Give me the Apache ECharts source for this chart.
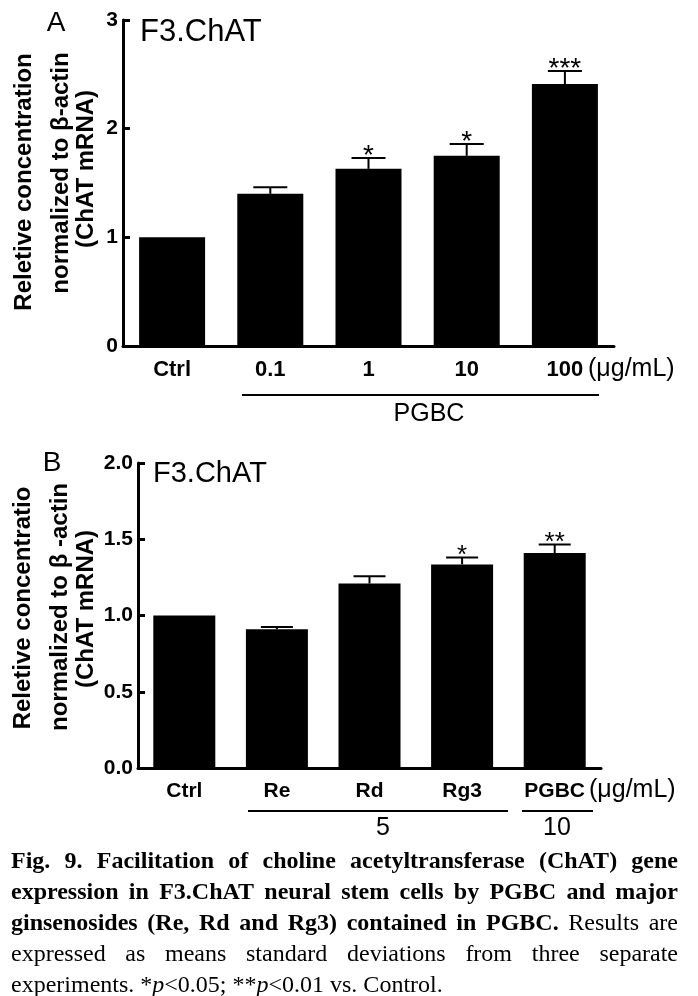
<!DOCTYPE html>
<html><head><meta charset="utf-8">
<script src="https://cdn.jsdelivr.net/npm/echarts@6/dist/echarts.min.js"></script>
<style>html,body{margin:0;padding:0;background:#fff}#c{width:698px;height:996px}</style>
</head><body><div id="c"></div>
<script>
// ---- Panel A data ----
const catsA = ['Ctrl', '0.1', '1', '10', '100'];
const meanA = [1.00, 1.40, 1.63, 1.75, 2.41];
const errA = [0, 0.06, 0.10, 0.11, 0.12];
const starsA = ['', '', '*', '*', '***'];
const yTicksA = { min: 0, max: 3, interval: 1 };

// ---- Panel B data ----
const catsB = ['Ctrl', 'Re', 'Rd', 'Rg3', 'PGBC'];
const meanB = [1.00, 0.91, 1.21, 1.335, 1.41];
const errB = [0, 0.015, 0.048, 0.046, 0.055];
const starsB = ['', '', '', '*', '**'];
const yTicksB = { min: 0, max: 2, interval: 0.5 };

const SANS = '"Liberation Sans", Arial, sans-serif';
const SERIF = '"Liberation Serif", "Times New Roman", serif';

const chart = echarts.init(document.getElementById('c'), null, { renderer: 'canvas' });

function errRender(stars, capHalf, starSize) {
  return function (params, api) {
    const i = api.value(0), m = api.value(1), e = api.value(2);
    const base = api.coord([i, m]);
    const top = api.coord([i, m + e]);
    const children = [];
    if (e > 0) {
      children.push({ type: 'line', shape: { x1: base[0], y1: base[1], x2: top[0], y2: top[1] }, style: { stroke: '#000', lineWidth: 2 } });
      children.push({ type: 'line', shape: { x1: top[0] - capHalf, y1: top[1], x2: top[0] + capHalf, y2: top[1] }, style: { stroke: '#000', lineWidth: 2 } });
    }
    const s = stars[i];
    if (s) {
      children.push({ type: 'text', x: top[0], y: top[1] - 2, style: { text: s, font: 'normal ' + starSize + 'px ' + SANS, fill: '#000', align: 'center', verticalAlign: 'middle' } });
    }
    return { type: 'group', children };
  };
}

function yAxisCfg(grid, t, decimals) {
  return {
    type: 'value', gridIndex: grid, min: t.min, max: t.max, interval: t.interval,
    axisLine: { show: true, lineStyle: { color: '#000', width: 3 } },
    axisTick: { show: true, inside: true, length: 7, lineStyle: { color: '#000', width: 3 } },
    splitLine: { show: false },
    axisLabel: { color: '#000', fontFamily: SANS, fontWeight: 'bold', fontSize: 21, margin: 5,
      formatter: v => v.toFixed(decimals) }
  };
}
function xAxisCfg(grid, cats, size) {
  return {
    type: 'category', gridIndex: grid, data: cats,
    axisLine: { show: true, lineStyle: { color: '#000', width: 3 } },
    axisTick: { show: false },
    axisLabel: { color: '#000', fontFamily: SANS, fontWeight: 'bold', fontSize: size, margin: 13 }
  };
}

// ---- caption (justified) ----
const captionLines = [
  [['Fig. 9. Facilitation of choline acetyltransferase (ChAT) gene', 'bold']],
  [['expression in F3.ChAT neural stem cells by PGBC and major', 'bold']],
  [['ginsenosides (Re, Rd and Rg3) contained in PGBC.', 'bold'], ['Results are', 'normal']],
  [['expressed as means standard deviations from three separate', 'normal']]
];
const captionLast = 'experiments. *{i|p}<0.05; **{i|p}<0.01 vs. Control.';
const CAP_SIZE = 24, CAP_X0 = 11, CAP_X1 = 678;
const capY = [862, 893, 924, 955, 986];

const mctx = document.createElement('canvas').getContext('2d');
function fontOf(w) { return w + ' ' + CAP_SIZE + 'px ' + SERIF; }
const graphics = [];
captionLines.forEach((segs, li) => {
  const words = [];
  segs.forEach(([txt, w]) => txt.split(' ').forEach(word => words.push([word, w])));
  let sum = 0;
  const widths = words.map(([word, w]) => { mctx.font = fontOf(w); const wd = mctx.measureText(word).width; sum += wd; return wd; });
  const gap = (CAP_X1 - CAP_X0 - sum) / (words.length - 1);
  let x = CAP_X0;
  words.forEach(([word, w], k) => {
    graphics.push({ type: 'text', x: x, y: capY[li], style: { text: word, font: fontOf(w), fill: '#000', align: 'left', verticalAlign: 'middle' } });
    x += widths[k] + gap;
  });
});
graphics.push({ type: 'text', x: CAP_X0, y: capY[4], style: {
  text: captionLast, font: fontOf('normal'), fill: '#000', align: 'left', verticalAlign: 'middle',
  rich: { i: { fontStyle: 'italic', fontFamily: SERIF, fontSize: CAP_SIZE } } } });

function txt(x, y, text, size, weight, align, rot) {
  return { type: 'text', x, y, rotation: rot || 0, style: { text, font: (weight || 'normal') + ' ' + size + 'px ' + SANS, fill: '#000', align: align || 'center', verticalAlign: 'middle' } };
}
function hline(x1, x2, y) {
  return { type: 'line', shape: { x1, y1: y, x2, y2: y }, style: { stroke: '#000', lineWidth: 2 } };
}
const R = Math.PI / 2;
graphics.push(
  // Panel A
  txt(56, 23, 'A', 28, 'normal'),
  txt(140, 32, 'F3.ChAT', 31, 'normal', 'left'),
  txt(24, 182, 'Reletive concentration', 24, 'bold', 'center', R),
  txt(61, 173, 'normalized to β-actin', 24, 'bold', 'center', R),
  txt(86, 169, '(ChAT mRNA)', 24, 'bold', 'center', R),
  txt(588, 369, '(μg/mL)', 25, 'normal', 'left'),
  hline(242, 599, 395),
  txt(429, 414, 'PGBC', 25, 'normal'),
  // Panel B
  txt(52, 463, 'B', 28, 'normal'),
  txt(153, 474, 'F3.ChAT', 29, 'normal', 'left'),
  txt(23, 608, 'Reletive concentratio', 24, 'bold', 'center', R),
  txt(60, 607, 'normalized to β -actin', 24, 'bold', 'center', R),
  txt(86, 609, '(ChAT mRNA)', 24, 'bold', 'center', R),
  txt(589, 790, '(μg/mL)', 25, 'normal', 'left'),
  hline(248, 508, 811),
  hline(522, 593, 811),
  txt(383, 828, '5', 25, 'normal'),
  txt(557, 828, '10', 25, 'normal')
);

const option = {
  backgroundColor: '#fff',
  animation: false,
  grid: [
    { left: 123, top: 20, width: 491, height: 326 },
    { left: 138, top: 463, width: 463, height: 305 }
  ],
  xAxis: [xAxisCfg(0, catsA, 22), xAxisCfg(1, catsB, 21)],
  yAxis: [yAxisCfg(0, yTicksA, 0), yAxisCfg(1, yTicksB, 1)],
  series: [
    { type: 'bar', xAxisIndex: 0, yAxisIndex: 0, data: meanA, barWidth: 66, itemStyle: { color: '#000' } },
    { type: 'custom', xAxisIndex: 0, yAxisIndex: 0, renderItem: errRender(starsA, 17, 28),
      data: catsA.map((c, i) => [i, meanA[i], errA[i]]), z: 3 },
    { type: 'bar', xAxisIndex: 1, yAxisIndex: 1, data: meanB, barWidth: 62, itemStyle: { color: '#000' } },
    { type: 'custom', xAxisIndex: 1, yAxisIndex: 1, renderItem: errRender(starsB, 16, 26),
      data: catsB.map((c, i) => [i, meanB[i], errB[i]]), z: 3 }
  ],
  graphic: graphics
};
chart.setOption(option);
</script></body></html>
